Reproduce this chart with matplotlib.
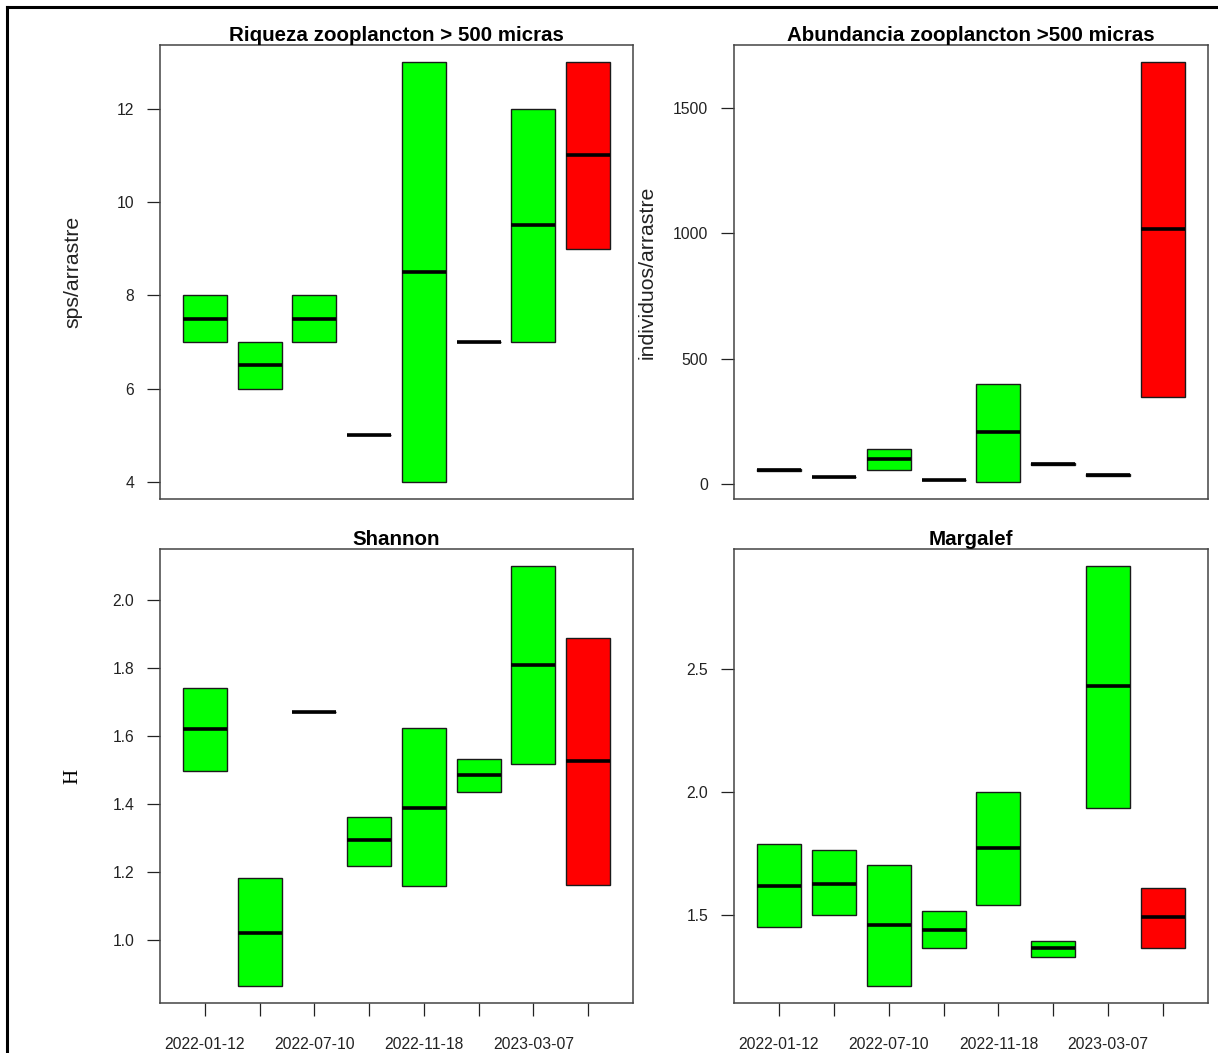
import matplotlib
matplotlib.use("Agg")
import matplotlib.pyplot as plt
from matplotlib.lines import Line2D

plt.rcParams['font.family'] = ['Liberation Sans', 'DejaVu Sans']

# ---- data ----
dates = ["2022-01-12", "", "2022-07-10", "", "2022-11-18", "", "2023-03-07", ""]
box_colors = ["#00FF00"] * 7 + ["#FF0000"]

riq_min = [7, 6, 7, 5, 4, 7, 7, 9]
riq_med = [7.5, 6.5, 7.5, 5, 8.5, 7, 9.5, 11]
riq_max = [8, 7, 8, 5, 13, 7, 12, 13]

abu_min = [52, 28, 57, 17, 8, 78, 31, 346]
abu_med = [57, 28, 100, 17, 206, 81, 36, 1017]
abu_max = [62, 28, 140, 17, 400, 84, 41, 1682]

sha_min = [1.496, 0.863, 1.671, 1.217, 1.158, 1.433, 1.516, 1.161]
sha_med = [1.620, 1.019, 1.671, 1.292, 1.388, 1.483, 1.809, 1.526]
sha_max = [1.740, 1.180, 1.671, 1.362, 1.623, 1.531, 2.100, 1.888]

mar_min = [1.452, 1.498, 1.210, 1.364, 1.539, 1.329, 1.936, 1.364]
mar_med = [1.617, 1.627, 1.458, 1.437, 1.772, 1.365, 2.433, 1.490]
mar_max = [1.788, 1.763, 1.705, 1.515, 2.000, 1.395, 2.921, 1.611]

panels = [
    dict(title="Riqueza zooplancton > 500 micras", ylabel="sps/arrastre",
         lo=riq_min, med=riq_med, hi=riq_max, ticks=[4, 6, 8, 10, 12], fmt="{:.0f}"),
    dict(title="Abundancia zooplancton >500 micras", ylabel="individuos/arrastre",
         lo=abu_min, med=abu_med, hi=abu_max, ticks=[0, 500, 1000, 1500], fmt="{:.0f}"),
    dict(title="Shannon", ylabel="H",
         lo=sha_min, med=sha_med, hi=sha_max, ticks=[1.0, 1.2, 1.4, 1.6, 1.8, 2.0], fmt="{:.1f}"),
    dict(title="Margalef", ylabel="",
         lo=mar_min, med=mar_med, hi=mar_max, ticks=[1.5, 2.0, 2.5], fmt="{:.1f}"),
]

W, H = 1218, 1053
fig = plt.figure(figsize=(W / 100, H / 100), dpi=100)

# axes rectangles in pixels (left, top, right, bottom)
rects = [(160, 45, 633, 499), (734, 45, 1208, 499),
         (160, 549, 633, 1003), (734, 549, 1208, 1003)]

for i, (p, r) in enumerate(zip(panels, rects)):
    l, t, rr, b = r
    ax = fig.add_axes([l / W, 1 - b / H, (rr - l) / W, (b - t) / H])
    n = len(p["med"])
    stats = [dict(med=p["med"][k], q1=p["lo"][k], q3=p["hi"][k],
                  whislo=p["lo"][k], whishi=p["hi"][k], fliers=[])
             for k in range(n)]
    positions = list(range(1, n + 1))
    bp = ax.bxp(stats, positions=positions, widths=0.8, patch_artist=True,
                showcaps=False, showfliers=False,
                boxprops=dict(edgecolor="#1a1a1a", linewidth=1.0),
                whiskerprops=dict(linewidth=0),
                medianprops=dict(color="black", linewidth=2.6, solid_capstyle="butt"))
    for patch, c in zip(bp["boxes"], box_colors):
        patch.set_facecolor(c)
    allv = p["lo"] + p["hi"]
    vmin, vmax = min(allv), max(allv)
    rng = vmax - vmin
    ax.set_ylim(vmin - 0.04 * rng, vmax + 0.04 * rng)
    ax.set_xlim(0.5 - 0.32, n + 0.5 + 0.32)
    ax.set_yticks(p["ticks"])
    ax.set_yticklabels([p["fmt"].format(v) for v in p["ticks"]])
    ax.tick_params(axis="y", length=9.5, width=0.9, pad=9, labelsize=11.3,
                   colors="#222222")
    if i >= 2:
        ax.set_xticks(positions)
        ax.set_xticklabels(dates)
        ax.tick_params(axis="x", length=9.5, width=0.9, pad=15, labelsize=11.3,
                       colors="#222222")
    else:
        ax.set_xticks([])
    for s in ax.spines.values():
        s.set_color("#444444")
        s.set_linewidth(1.1)
    ax.set_title(p["title"], fontsize=14.8, fontweight="bold", pad=2.5)
    if p["ylabel"]:
        if p["ylabel"] == "H":
            ax.set_ylabel(p["ylabel"], fontsize=15, family=["Liberation Serif"])
        else:
            ax.set_ylabel(p["ylabel"], fontsize=15.3, color="#222222")
        ax.yaxis.label.set_va("center")
        ax.yaxis.set_label_coords(-87 / (rr - l), 0.5)

# outer border (screenshot frame), left and top edges
fig.add_artist(Line2D([7 / W, 7 / W], [0, 1 - 7 / H], color="black", lw=2.2,
                      transform=fig.transFigure))
fig.add_artist(Line2D([7 / W, 1], [1 - 7 / H, 1 - 7 / H], color="black", lw=2.2,
                      transform=fig.transFigure))

fig.savefig("out.png", dpi=100)
